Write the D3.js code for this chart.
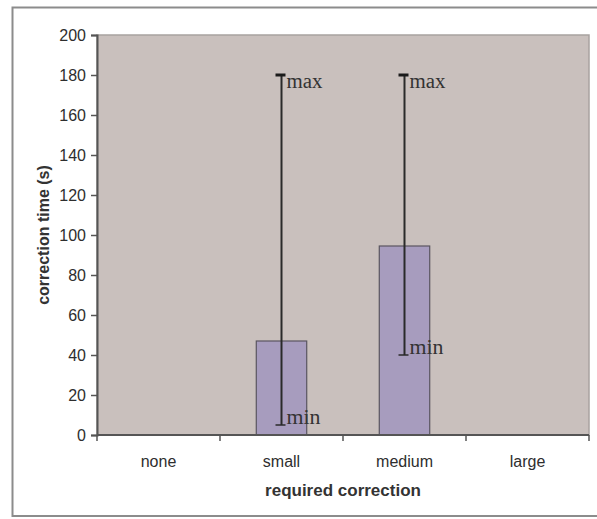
<!DOCTYPE html>
<html><head><meta charset="utf-8">
<script src="https://cdn.jsdelivr.net/npm/d3@7"></script>
<style>body{margin:0;background:#fff}svg{display:block}</style>
</head><body><svg id="c" width="597" height="519"></svg>
<script>
const categories = ["none", "small", "medium", "large"];
const meanValues = [null, 47, 94.5, null];
const maxValues = [null, 180, 180, null];
const minValues = [null, 5, 40, null];
const yTicks = [0, 20, 40, 60, 80, 100, 120, 140, 160, 180, 200];
const yTitle = "correction time (s)";
const xTitle = "required correction";

const svg = d3.select("#c");
const L = 97, R = 589, T = 35, B = 435;

svg.append("rect").attr("x", 12.5).attr("y", 7.5).attr("width", 600).attr("height", 508.5)
  .attr("fill", "#fff").attr("stroke", "#8c8c8c").attr("stroke-width", 2);

const x = d3.scaleBand().domain(categories).range([L, R]).paddingInner(0.59).paddingOuter(0.295);
const xb = d3.scaleBand().domain(categories).range([L, R]);
const y = d3.scaleLinear().domain([0, 200]).range([B, T]);

svg.append("rect").attr("x", L).attr("y", T).attr("width", R - L).attr("height", B - T)
  .attr("fill", "#c9c0bd").attr("stroke", "#a8a2a0").attr("stroke-width", 1.5);

const data = categories.map((c, i) => ({c, v: meanValues[i], mx: maxValues[i], mn: minValues[i]})).filter(d => d.v != null);

svg.selectAll("rect.bar").data(data).enter().append("rect").attr("class", "bar")
  .attr("x", d => x(d.c)).attr("width", x.bandwidth())
  .attr("y", d => y(d.v)).attr("height", d => y(0) - y(d.v))
  .attr("fill", "#a79cbe").attr("stroke", "#5a5560").attr("stroke-width", 1.2);

// error bars
const eb = svg.selectAll("g.eb").data(data).enter().append("g");
const cx = d => xb(d.c) + xb.bandwidth() / 2;
eb.append("line").attr("x1", cx).attr("x2", cx).attr("y1", d => y(d.mx)).attr("y2", d => y(d.mn))
  .attr("stroke", "#2a2a2a").attr("stroke-width", 2);
eb.append("line").attr("x1", d => cx(d) - 6).attr("x2", d => cx(d) + 4).attr("y1", d => y(d.mx)).attr("y2", d => y(d.mx))
  .attr("stroke", "#1a1a1a").attr("stroke-width", 3);
eb.append("line").attr("x1", d => cx(d) - 6).attr("x2", d => cx(d) + 4).attr("y1", d => y(d.mn)).attr("y2", d => y(d.mn))
  .attr("stroke", "#2a2a2a").attr("stroke-width", 1.5);
eb.append("text").attr("x", d => cx(d) + 5).attr("y", d => y(d.mx) + 13).text("max")
  .attr("font-family", "Liberation Serif, Times New Roman, serif").attr("font-size", 20)
  .attr("fill", "#333").attr("textLength", 36).attr("lengthAdjust", "spacingAndGlyphs");
eb.append("text").attr("x", d => cx(d) + 5).attr("y", d => y(d.mn) - 1).text("min")
  .attr("font-family", "Liberation Serif, Times New Roman, serif").attr("font-size", 20)
  .attr("fill", "#333").attr("textLength", 34).attr("lengthAdjust", "spacingAndGlyphs");

// axes
const yAxis = d3.axisLeft(y).tickValues(yTicks).tickSize(6).tickPadding(5);
const gy = svg.append("g").attr("transform", `translate(${L},0)`).call(yAxis);
gy.select(".domain").attr("stroke", "#555").attr("stroke-width", 2);
gy.selectAll(".tick line").attr("stroke", "#555").attr("stroke-width", 1.5);
gy.selectAll(".tick text").attr("font-family", "Liberation Sans, Arial, sans-serif").attr("font-size", 16).attr("fill", "#2e2e2e");

const gx = svg.append("g").attr("transform", `translate(0,${B})`);
gx.append("line").attr("x1", L).attr("x2", R).attr("y1", 0).attr("y2", 0).attr("stroke", "#555").attr("stroke-width", 2);
const bounds = categories.map(c => xb(c)).concat([R]);
gx.selectAll("line.t").data(bounds).enter().append("line").attr("class", "t")
  .attr("x1", d => d).attr("x2", d => d).attr("y1", 0).attr("y2", 6).attr("stroke", "#555").attr("stroke-width", 1.5);
gx.selectAll("text").data(categories).enter().append("text")
  .attr("x", c => xb(c) + xb.bandwidth() / 2).attr("y", 32).attr("text-anchor", "middle")
  .attr("font-family", "Liberation Sans, Arial, sans-serif").attr("font-size", 16).attr("fill", "#2e2e2e").text(c => c);

svg.append("text").attr("x", (L + R) / 2).attr("y", 496).attr("text-anchor", "middle")
  .attr("font-family", "Liberation Sans, Arial, sans-serif").attr("font-size", 17).attr("font-weight", "bold")
  .attr("fill", "#333").text(xTitle);
svg.append("text").attr("transform", `translate(49,${(T + B) / 2}) rotate(-90)`).attr("text-anchor", "middle")
  .attr("font-family", "Liberation Sans, Arial, sans-serif").attr("font-size", 16).attr("font-weight", "bold")
  .attr("fill", "#333").text(yTitle);
</script></body></html>
